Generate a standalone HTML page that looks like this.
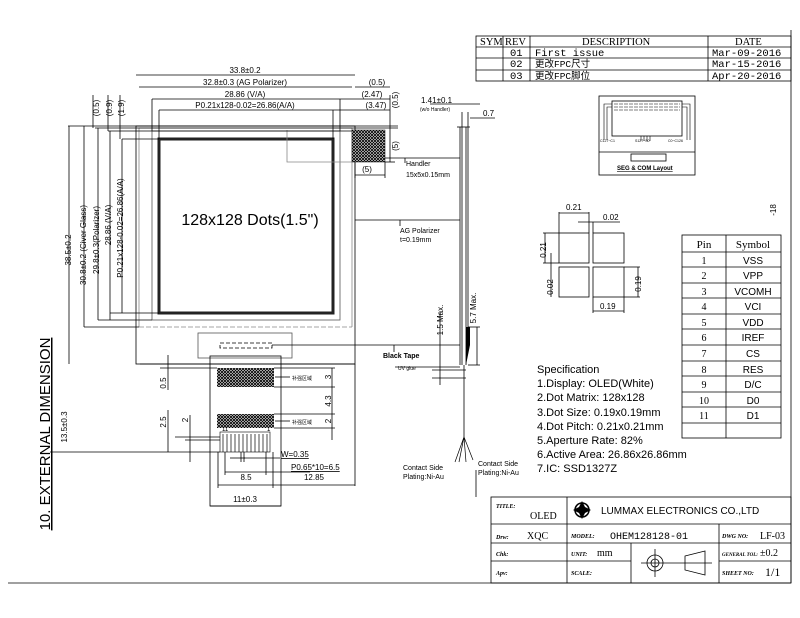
<!DOCTYPE html>
<html><head><meta charset="utf-8"><style>
html,body{margin:0;padding:0;background:#fff;}
svg{display:block;}
text{font-family:"Liberation Sans","Noto Sans CJK SC",sans-serif;fill:#000;}
.s text, text.s{font-family:"Liberation Serif","Noto Serif CJK SC","Noto Sans CJK SC",serif;}
.m text, text.m{font-family:"Liberation Mono","Noto Sans CJK SC",monospace;}
</style></head><body>
<svg width="800" height="618" viewBox="0 0 800 618" xmlns="http://www.w3.org/2000/svg">
<defs>
<pattern id="h" width="3" height="3" patternUnits="userSpaceOnUse"><rect width="3" height="3" fill="#fff"/><path d="M0 0L3 3M3 0L0 3" stroke="#000" stroke-width="0.9"/></pattern>
</defs>
<g fill="none" stroke="#000" stroke-width="0.8">
<line x1="791" y1="30" x2="791" y2="583"/>
<line x1="8" y1="583" x2="791" y2="583"/>
<rect x="476" y="36" width="315" height="45"/>
<line x1="476" y1="47" x2="791" y2="47"/><line x1="476" y1="58" x2="791" y2="58"/><line x1="476" y1="70" x2="791" y2="70"/>
<line x1="503" y1="36" x2="503" y2="81"/><line x1="530" y1="36" x2="530" y2="81"/><line x1="708" y1="36" x2="708" y2="81"/>
<rect x="491" y="497" width="300" height="86"/>
<line x1="491" y1="524" x2="791" y2="524"/><line x1="491" y1="543" x2="791" y2="543"/><line x1="491" y1="561" x2="567" y2="561"/>
<line x1="567" y1="561" x2="631" y2="561"/><line x1="719" y1="561" x2="791" y2="561"/>
<line x1="567" y1="497" x2="567" y2="583"/><line x1="631" y1="543" x2="631" y2="583"/><line x1="719" y1="524" x2="719" y2="583"/>
<line x1="476" y1="470" x2="476" y2="497"/>
<rect x="136" y="126" width="219" height="238"/>
<line x1="139" y1="128" x2="352" y2="128" stroke="#888"/>
<line x1="139" y1="128" x2="139" y2="327" stroke="#888"/><line x1="352" y1="128" x2="352" y2="327" stroke="#888"/>
<line x1="139" y1="327" x2="352" y2="327" stroke="#888" stroke-dasharray="5 2"/>
<rect x="152" y="131" width="188" height="189" stroke="#555"/>
<rect x="159" y="139" width="174" height="174" stroke-width="3" stroke="#222"/>
<polyline points="287,130 287,162 352,162" stroke="#888"/>
<line x1="68" y1="126" x2="398" y2="126"/><line x1="95" y1="128" x2="398" y2="128"/><line x1="108" y1="131" x2="352" y2="131"/>
<line x1="136" y1="75" x2="355" y2="75"/><line x1="139" y1="87" x2="352" y2="87"/><line x1="152" y1="99" x2="340" y2="99"/><line x1="159" y1="110" x2="333" y2="110"/>
<line x1="355" y1="87" x2="390" y2="87"/><line x1="340" y1="99" x2="390" y2="99"/><line x1="333" y1="110" x2="390" y2="110"/>
<line x1="159" y1="110" x2="159" y2="139"/><line x1="333" y1="110" x2="333" y2="139"/><line x1="152" y1="99" x2="152" y2="131"/><line x1="340" y1="99" x2="340" y2="131"/>
<line x1="69" y1="126" x2="69" y2="364"/><line x1="84" y1="126" x2="84" y2="327"/><line x1="98" y1="128" x2="98" y2="320"/><line x1="110" y1="131" x2="110" y2="320"/><line x1="122" y1="139" x2="122" y2="313"/>
<line x1="84" y1="327" x2="139" y2="327"/><line x1="98" y1="320" x2="152" y2="320"/><line x1="110" y1="313" x2="159" y2="313"/><line x1="122" y1="139" x2="159" y2="139"/>
<line x1="93" y1="95" x2="93" y2="128"/><line x1="108" y1="95" x2="108" y2="131"/><line x1="120" y1="95" x2="120" y2="139"/>
<line x1="390" y1="95" x2="390" y2="162"/><line x1="385" y1="162" x2="395" y2="162"/>
<line x1="355" y1="175" x2="385" y2="175"/><line x1="385" y1="162" x2="385" y2="178"/><line x1="355" y1="162" x2="355" y2="178"/>
<line x1="385" y1="158" x2="460" y2="158"/><line x1="405" y1="158" x2="405" y2="163"/>
<line x1="355" y1="220" x2="460" y2="220"/><line x1="400" y1="220" x2="400" y2="226"/>
<rect x="198" y="333" width="94" height="25" stroke="#555"/>
<rect x="220" y="343" width="52" height="5" stroke-dasharray="4 2"/>
<line x1="272" y1="345" x2="460" y2="345"/><line x1="394" y1="345" x2="394" y2="352"/>
<rect x="210" y="356" width="71" height="150"/>
<line x1="140" y1="364" x2="355" y2="364"/>
<line x1="355" y1="364" x2="355" y2="486"/>
<rect x="220" y="432" width="50" height="20" stroke-width="0.6"/>
<path d="M223 434v18M227 434v18M231 434v18M235 434v18M239 434v18M243 434v18M247 434v18M251 434v18M255 434v18M259 434v18M263 434v18M267 434v18" stroke-width="0.7"/>
<line x1="168" y1="355" x2="168" y2="390"/><line x1="168" y1="410" x2="168" y2="452"/><line x1="160" y1="368" x2="217" y2="368"/>
<line x1="190" y1="415" x2="190" y2="462"/><line x1="175" y1="437" x2="220" y2="437"/><line x1="185" y1="440" x2="220" y2="440"/>
<line x1="50" y1="452" x2="220" y2="452"/>
<line x1="332" y1="368" x2="332" y2="440"/><line x1="274" y1="368" x2="335" y2="368"/><line x1="274" y1="387" x2="335" y2="387"/><line x1="274" y1="414" x2="335" y2="414"/><line x1="274" y1="428" x2="335" y2="428"/>
<line x1="275" y1="377" x2="290" y2="377"/><line x1="275" y1="421" x2="290" y2="421"/>
<line x1="230" y1="458" x2="245" y2="458"/><line x1="241" y1="452" x2="241" y2="462"/><line x1="244" y1="452" x2="244" y2="462"/><line x1="244" y1="458" x2="280" y2="458"/>
<line x1="225" y1="472" x2="310" y2="472"/><line x1="225" y1="452" x2="225" y2="475"/><line x1="266" y1="452" x2="266" y2="475"/>
<line x1="218" y1="485" x2="355" y2="485"/><line x1="273" y1="452" x2="273" y2="488"/><line x1="218" y1="452" x2="218" y2="488"/>
<line x1="210" y1="506" x2="281" y2="506"/>
<line x1="460" y1="127" x2="460" y2="365"/><line x1="462" y1="112" x2="462" y2="365"/><line x1="466" y1="127" x2="466" y2="365"/><line x1="468" y1="112" x2="468" y2="327"/>
<line x1="457" y1="127" x2="470" y2="127"/><line x1="430" y1="104" x2="480" y2="104"/><line x1="470" y1="118" x2="495" y2="118"/>
<line x1="464" y1="365" x2="464" y2="437"/>
<path d="M464 437L455 462M464 437L459 462M464 437L466 462M464 437L473 460" stroke-width="0.7"/>
<line x1="440" y1="313" x2="440" y2="385"/><line x1="432" y1="370" x2="466" y2="370"/><line x1="432" y1="378" x2="466" y2="378"/>
<line x1="477" y1="327" x2="477" y2="365"/><line x1="468" y1="327" x2="480" y2="327"/><line x1="468" y1="365" x2="480" y2="365"/>
<line x1="395" y1="367" x2="460" y2="367"/>
<rect x="599" y="96" width="96" height="79"/>
<line x1="599" y1="152" x2="695" y2="152"/>
<rect x="612" y="101" width="70" height="35"/>
<rect x="631" y="154" width="35" height="7"/>
<path d="M612 104H604V140M612 107H607V140M682 104H690V140M682 107H687V140" stroke-width="0.6"/>
<path d="M614 104h66M614 107h66M614 110h66" stroke-dasharray="4 1" stroke-width="0.6"/>
<path d="M641 136v5M644 136v5M647 136v5M650 136v5" stroke-width="0.6"/>
<rect x="559" y="233" width="30" height="30"/><rect x="593" y="233" width="31" height="30"/>
<rect x="559" y="267" width="30" height="30"/><rect x="593" y="267" width="31" height="30"/>
<line x1="559" y1="212" x2="559" y2="233"/><line x1="589" y1="212" x2="589" y2="233"/><line x1="559" y1="213" x2="589" y2="213"/><line x1="593" y1="222" x2="593" y2="233"/><line x1="578" y1="222" x2="620" y2="222"/>
<line x1="543" y1="233" x2="559" y2="233"/><line x1="543" y1="263" x2="559" y2="263"/><line x1="545" y1="233" x2="545" y2="263"/>
<line x1="551" y1="253" x2="551" y2="297"/>
<line x1="624" y1="267" x2="640" y2="267"/><line x1="624" y1="297" x2="640" y2="297"/><line x1="638" y1="267" x2="638" y2="297"/>
<line x1="593" y1="297" x2="593" y2="313"/><line x1="624" y1="297" x2="624" y2="313"/><line x1="593" y1="311" x2="624" y2="311"/>
<rect x="682" y="235" width="99" height="203"/>
<line x1="726" y1="235" x2="726" y2="438"/>
<path d="M682 252H781M682 267H781M682 283H781M682 298H781M682 314H781M682 329H781M682 345H781M682 361H781M682 376H781M682 392H781M682 407H781M682 423H781"/>
<circle cx="655" cy="563" r="8"/><circle cx="655" cy="563" r="4"/>
<line x1="641" y1="563" x2="712" y2="563"/><line x1="655" y1="549" x2="655" y2="577"/>
<polygon points="685,556 705,551 705,575 685,570"/>
<circle cx="582" cy="510" r="7" stroke-width="1.5"/>
</g>
<path d="M582 501L585 507L591 510L585 513L582 519L579 513L573 510L579 507Z" fill="#000"/>
<rect x="352" y="130" width="33" height="32" fill="url(#h)" stroke="#000" stroke-width="0.5"/>
<rect x="217" y="368" width="57" height="19" fill="url(#h)"/>
<rect x="217" y="414" width="57" height="14" fill="url(#h)"/>
<polygon points="466,327 470,327 470,345 466,365" fill="#000"/>
<g class="s" font-size="10.5">
<text x="480" y="45">SYM</text><text x="505" y="45">REV</text><text x="582" y="45">DESCRIPTION</text><text x="735" y="45">DATE</text>
</g>
<g class="m" font-size="10.5">
<text x="510" y="56">01</text><text x="510" y="67">02</text><text x="510" y="79">03</text>
<text x="535" y="56">First issue</text><text x="535" y="67" font-size="9.5">更改FPC尺寸</text><text x="535" y="79" font-size="9.5">更改FPC脚位</text>
<text x="712" y="56">Mar-09-2016</text><text x="712" y="67">Mar-15-2016</text><text x="712" y="79">Apr-20-2016</text>
</g>
<g font-size="8" text-anchor="middle">
<text x="245" y="73">33.8±0.2</text><text x="245" y="85">32.8±0.3 (AG Polarizer)</text><text x="245" y="97">28.86 (V/A)</text><text x="245" y="108">P0.21x128-0.02=26.86(A/A)</text>
<text x="377" y="85">(0.5)</text><text x="372" y="97">(2.47)</text><text x="376" y="108">(3.47)</text><text x="367" y="172">(5)</text>
<text x="246" y="480">8.5</text><text x="314" y="480">12.85</text><text x="245" y="502">11±0.3</text>
</g>
<text x="250" y="225" font-size="16" text-anchor="middle">128x128 Dots(1.5")</text>
<g font-size="8" text-anchor="middle">
<text transform="translate(71,250) rotate(-90)">38.5±0.2</text>
<text transform="translate(86,245) rotate(-90)">30.8±0.2 (Civer Glass)</text>
<text transform="translate(99,240) rotate(-90)">29.8±0.3(Polarizer)</text>
<text transform="translate(111,225) rotate(-90)">28.86 (V/A)</text>
<text transform="translate(123,228) rotate(-90)">P0.21x128-0.02=26.86(A/A)</text>
<text transform="translate(99,108) rotate(-90)">(0.5)</text><text transform="translate(112,108) rotate(-90)">(0.9)</text><text transform="translate(124,108) rotate(-90)">(1.9)</text>
<text transform="translate(398,100) rotate(-90)">(0.5)</text><text transform="translate(398,146) rotate(-90)">(5)</text>
<text transform="translate(67,427) rotate(-90)">13.5±0.3</text>
<text transform="translate(166,383) rotate(-90)">0.5</text><text transform="translate(166,422) rotate(-90)">2.5</text><text transform="translate(188,420) rotate(-90)">2</text>
<text transform="translate(331,377) rotate(-90)">3</text><text transform="translate(331,401) rotate(-90)">4.3</text><text transform="translate(331,421) rotate(-90)">2</text>
<text transform="translate(443,320) rotate(-90)">1.5 Max.</text><text transform="translate(476,308) rotate(-90)">5.7 Max.</text>
<text transform="translate(546,250) rotate(-90)">0.21</text><text transform="translate(553,287) rotate(-90)">0.02</text><text transform="translate(641,284) rotate(-90)">0.19</text>
<text transform="translate(776,210) rotate(-90)">-18</text>
</g>
<text transform="translate(50,434) rotate(-90)" font-size="15" text-anchor="middle" text-decoration="underline">10. EXTERNAL DIMENSION</text>
<g font-size="7">
<text x="406" y="166">Handler</text><text x="406" y="177">15x5x0.15mm</text>
<text x="400" y="233">AG Polarizer</text><text x="400" y="242">t=0.19mm</text>
<text x="383" y="358" font-weight="bold">Black Tape</text><text x="398" y="370" font-size="5">UV glue</text>
<text x="403" y="470">Contact Side</text><text x="403" y="479">Plating:Ni-Au</text>
<text x="478" y="466">Contact Side</text><text x="478" y="475">Plating:Ni-Au</text>
<text x="421" y="103" font-size="8">1.41±0.1</text><text x="420" y="111" font-size="5">(w/o Handler)</text><text x="483" y="116" font-size="8">0.7</text>
<text x="222" y="431" font-size="6">11</text><text x="267" y="431" font-size="6">1</text>
<text x="292" y="380" font-size="5">补强区域</text><text x="292" y="424" font-size="5">补强区域</text>
<text x="281" y="457" font-size="8" text-decoration="underline">W=0.35</text>
<text x="291" y="470" font-size="8" text-decoration="underline">P0.65*10=6.5</text>
<text x="600" y="142" font-size="3.5">C127~C1</text><text x="635" y="142" font-size="3.5">S127~S0</text><text x="668" y="142" font-size="3.5">C0~C126</text>
<text x="617" y="170" font-size="6" font-weight="bold" text-decoration="underline">SEG &amp; COM Layout</text>
<text x="566" y="210" font-size="8">0.21</text><text x="603" y="220" font-size="8">0.02</text><text x="600" y="309" font-size="8">0.19</text>
</g>
<g font-size="11">
<text x="537" y="373">Specification</text><text x="537" y="387">1.Display: OLED(White)</text><text x="537" y="401">2.Dot Matrix: 128x128</text><text x="537" y="416">3.Dot Size: 0.19x0.19mm</text><text x="537" y="430">4.Dot Pitch: 0.21x0.21mm</text><text x="537" y="444">5.Aperture Rate: 82%</text><text x="537" y="458">6.Active Area: 26.86x26.86mm</text><text x="537" y="472">7.IC: SSD1327Z</text>
</g>
<g font-size="10" text-anchor="middle">
<text x="704" y="248" class="s" font-size="11">Pin</text><text x="753" y="248" class="s" font-size="11">Symbol</text>
<text x="704" y="264" class="s">1</text><text x="704" y="279" class="s">2</text><text x="704" y="295" class="s">3</text><text x="704" y="310" class="s">4</text><text x="704" y="326" class="s">5</text><text x="704" y="341" class="s">6</text><text x="704" y="357" class="s">7</text><text x="704" y="373" class="s">8</text><text x="704" y="388" class="s">9</text><text x="704" y="404" class="s">10</text><text x="704" y="419" class="s">11</text>
<text x="753" y="264">VSS</text><text x="753" y="279">VPP</text><text x="753" y="295">VCOMH</text><text x="753" y="310">VCI</text><text x="753" y="326">VDD</text><text x="753" y="341">IREF</text><text x="753" y="357">CS</text><text x="753" y="373">RES</text><text x="753" y="388">D/C</text><text x="753" y="404">D0</text><text x="753" y="419">D1</text>
</g>
<g class="s" font-size="6" font-style="italic" font-weight="bold">
<text x="496" y="508">TITLE:</text><text x="496" y="539">Drw:</text><text x="496" y="556">Chk:</text><text x="496" y="575">Apv:</text>
<text x="571" y="538">MODEL:</text><text x="571" y="556">UNIT:</text><text x="571" y="575">SCALE:</text>
<text x="722" y="538">DWG NO:</text><text x="722" y="556" font-size="5">GENERAL TOL:</text><text x="722" y="575">SHEET NO:</text>
</g>
<g class="s" font-size="10">
<text x="530" y="519">OLED</text><text x="527" y="539">XQC</text><text x="610" y="539" class="m">OHEM128128-01</text>
<text x="760" y="539">LF-03</text><text x="597" y="556">mm</text><text x="760" y="556">±0.2</text><text x="765" y="576" font-size="12">1/1</text>
</g>
<text x="601" y="514" font-size="10">LUMMAX ELECTRONICS CO.,LTD</text>
</svg>
</body></html>
